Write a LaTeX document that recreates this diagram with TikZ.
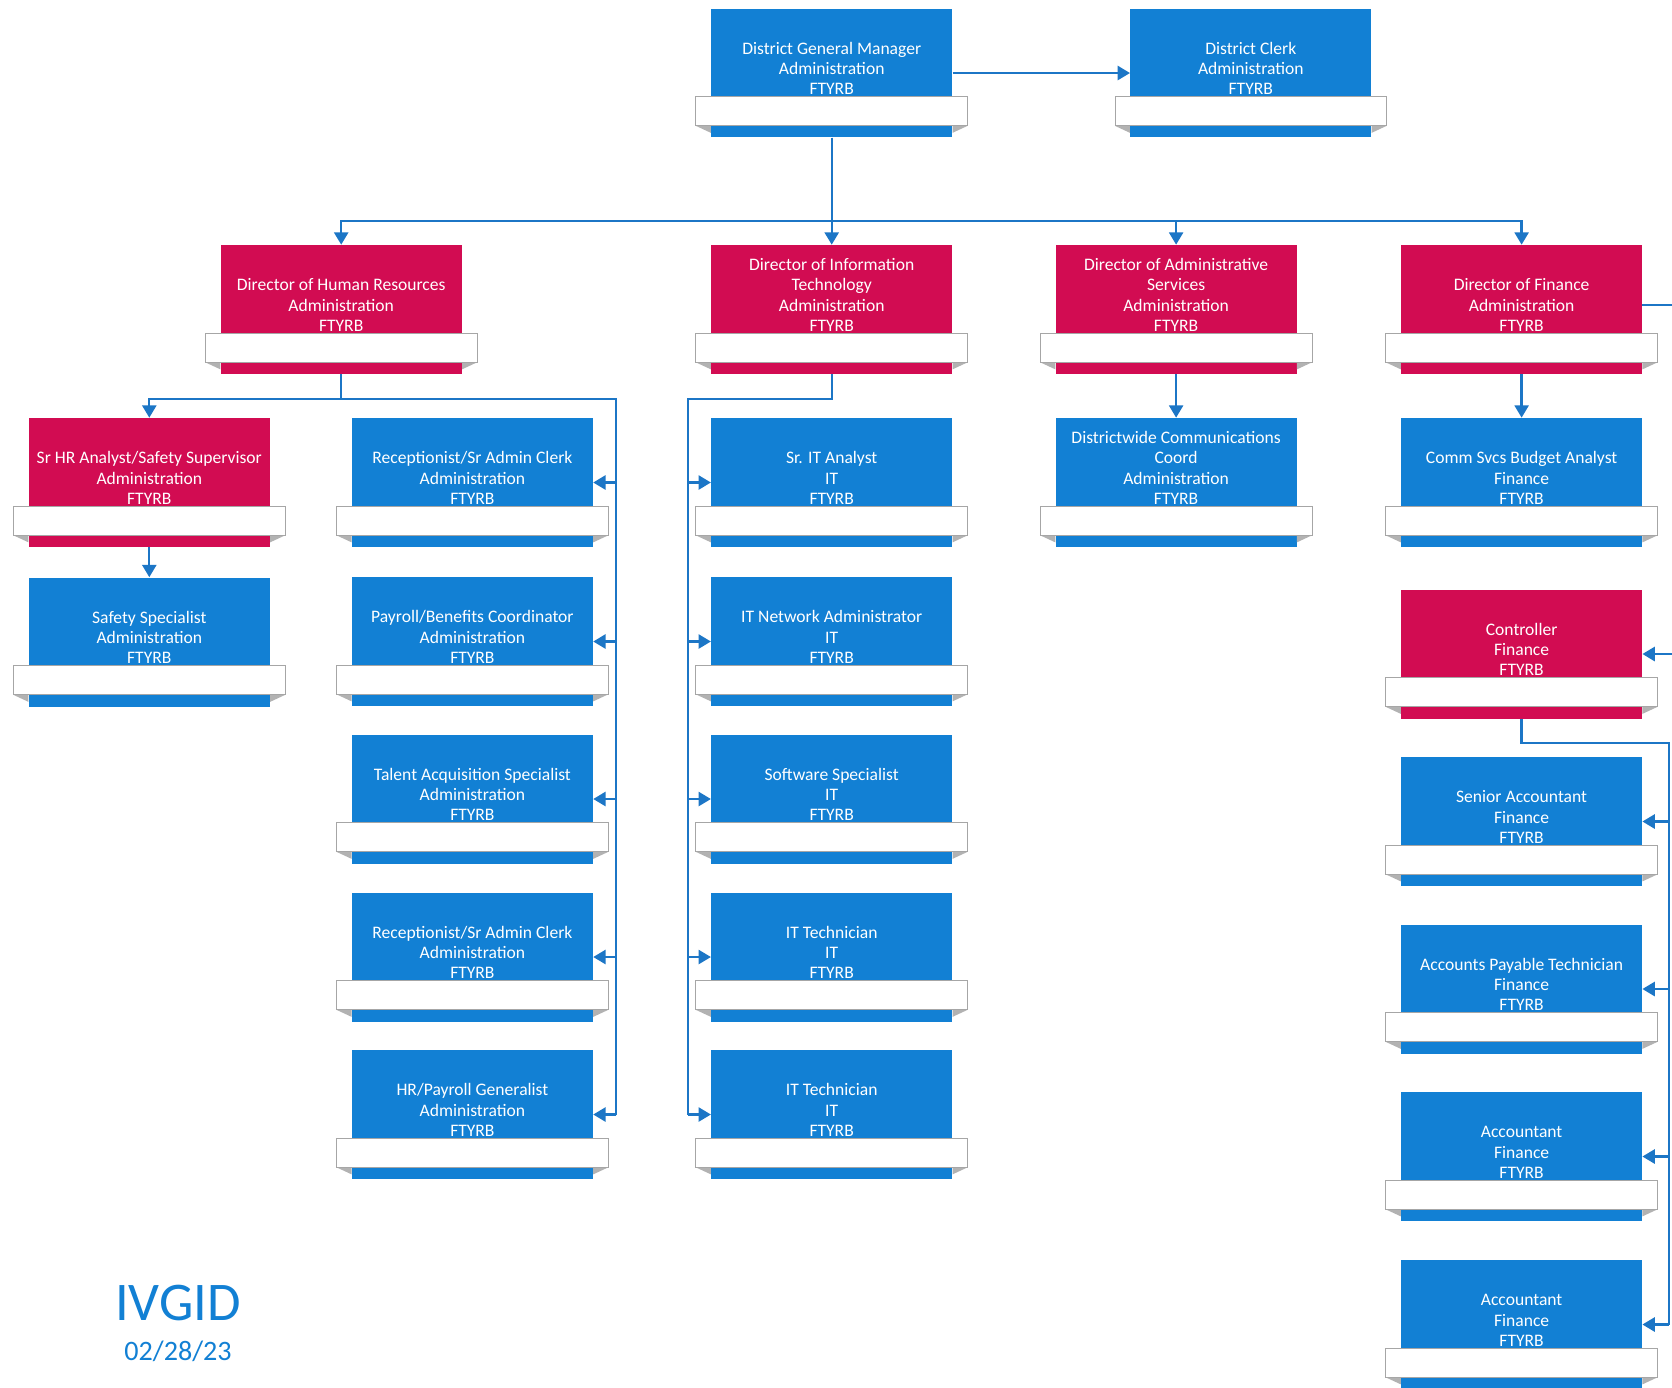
\documentclass[tikz,border=0pt]{standalone}
\usepackage{fontspec}
\setmainfont{Carlito}
\usetikzlibrary{arrows.meta,calc,positioning}
\definecolor{boxblue}{RGB}{18,128,212}
\definecolor{boxred}{RGB}{210,12,82}
\definecolor{linkblue}{RGB}{28,118,198}
\tikzset{
  orgnode/.style={minimum width=4.82cm,minimum height=2.58cm,inner sep=0pt,draw=none},
  boxtext/.style={text=white,align=center,inner sep=0pt,font=\fontsize{10}{11.5}\selectfont},
  stripbox/.style={draw=black!35,fill=white,line width=0.5pt},
  conn/.style={draw=linkblue,line width=1.3pt},
  connarrow/.style={conn,-{Triangle[width=8pt,length=7pt]}}
}
\newcommand{\orgbox}[5]{% name, x, y, colour, text
  \node[orgnode,fill=#4] (#1) at (#2,#3) {};
  \fill[black!30] ($(#1.south west)+(-15,-12)$) -- ($(#1.south west)+(0,-12)$) -- ($(#1.south west)+(0,-5)$) -- cycle;
  \fill[black!30] ($(#1.south east)+(15,-12)$) -- ($(#1.south east)+(0,-12)$) -- ($(#1.south east)+(0,-5)$) -- cycle;
  \draw[stripbox] ($(#1.south west)+(-15,-12)$) rectangle ($(#1.south east)+(15,-41)$);
  \node[boxtext,anchor=south] (#1-t) at ($(#1.north)+(0,87)$) {#5};
}

\begin{document}
\begin{tikzpicture}[x=0.02cm,y=-0.02cm]
\clip (0,0) rectangle (1672,1387);
\fill[white] (0,0) rectangle (1672,1387);
% Top
\orgbox{dgm}{831.7}{73}{boxblue}{District General Manager\\Administration\\FTYRB}
\orgbox{clerk}{1250.8}{73}{boxblue}{District Clerk\\Administration\\FTYRB}
% Directors
\orgbox{hr}{341.2}{309.5}{boxred}{Director of Human Resources\\Administration\\FTYRB}
\orgbox{it}{831.7}{309.5}{boxred}{Director of Information\\Technology\\Administration\\FTYRB}
\orgbox{adm}{1176.1}{309.5}{boxred}{Director of Administrative\\Services\\Administration\\FTYRB}
\orgbox{fin}{1521.6}{309.5}{boxred}{Director of Finance\\Administration\\FTYRB}
% Human resources
\orgbox{srhr}{149.3}{482.5}{boxred}{Sr HR Analyst/Safety Supervisor\\Administration\\FTYRB}
\orgbox{safety}{149.3}{642}{boxblue}{Safety Specialist\\Administration\\FTYRB}
\orgbox{recepA}{472.4}{482.5}{boxblue}{Receptionist/Sr Admin Clerk\\Administration\\FTYRB}
\orgbox{payroll}{472.4}{641.5}{boxblue}{Payroll/Benefits Coordinator\\Administration\\FTYRB}
\orgbox{talent}{472.4}{799}{boxblue}{Talent Acquisition Specialist\\Administration\\FTYRB}
\orgbox{recepB}{472.4}{957}{boxblue}{Receptionist/Sr Admin Clerk\\Administration\\FTYRB}
\orgbox{hrgen}{472.4}{1114.5}{boxblue}{HR/Payroll Generalist\\Administration\\FTYRB}
% Information technology
\orgbox{srit}{831.7}{482.5}{boxblue}{Sr. IT Analyst\\IT\\FTYRB}
\orgbox{netadm}{831.7}{641.5}{boxblue}{IT Network Administrator\\IT\\FTYRB}
\orgbox{softspec}{831.7}{799}{boxblue}{Software Specialist\\IT\\FTYRB}
\orgbox{ittechA}{831.7}{957}{boxblue}{IT Technician\\IT\\FTYRB}
\orgbox{ittechB}{831.7}{1114.5}{boxblue}{IT Technician\\IT\\FTYRB}
% Administrative services
\orgbox{comms}{1176.1}{482.5}{boxblue}{Districtwide Communications\\Coord\\Administration\\FTYRB}
% Finance
\orgbox{budget}{1521.6}{482.5}{boxblue}{Comm Svcs Budget Analyst\\Finance\\FTYRB}
\orgbox{ctrl}{1521.6}{654}{boxred}{Controller\\Finance\\FTYRB}
\orgbox{sracct}{1521.6}{821.5}{boxblue}{Senior Accountant\\Finance\\FTYRB}
\orgbox{aptech}{1521.6}{989}{boxblue}{Accounts Payable Technician\\Finance\\FTYRB}
\orgbox{acctA}{1521.6}{1156.5}{boxblue}{Accountant\\Finance\\FTYRB}
\orgbox{acctB}{1521.6}{1324.5}{boxblue}{Accountant\\Finance\\FTYRB}
% Links
\draw[connarrow] (dgm.east) -- (clerk.west);
\draw[connarrow] (dgm.south) -- (it.north);
\draw[connarrow] (dgm.south) -- ++(0,83.5) -| (hr.north);
\draw[connarrow] (dgm.south) -- ++(0,83.5) -| (adm.north);
\draw[connarrow] (dgm.south) -- ++(0,83.5) -| (fin.north);
% HR links
\coordinate (hrbus) at (616.3,1114.5);
\draw[conn] (hr.south) -- ++(0,24.8) -| (hrbus);
\draw[connarrow] (hr.south) -- ++(0,24.8) -| (srhr.north);
\draw[connarrow] (srhr.south) -- (safety.north);
\foreach \who in {recepA,payroll,talent,recepB,hrgen}
  \draw[connarrow] (hrbus |- \who.east) -- (\who.east);
% IT links
\coordinate (itbus) at (687.8,1114.5);
\draw[conn] (it.south) -- ++(0,24.8) -| (itbus);
\foreach \who in {srit,netadm,softspec,ittechA,ittechB}
  \draw[connarrow] (itbus |- \who.west) -- (\who.west);
% Admin and finance links
\draw[connarrow] (adm.south) -- (comms.north);
\draw[connarrow] (fin.south) -- (budget.north);
\draw[connarrow] ($(fin.east)+(0,-4.5)$) -- ++(45,0) |- (ctrl.east);
\coordinate (ctrlbus) at (1668.8,1324.5);
\draw[conn] (ctrl.south) -- ++(0,24.3) -| (ctrlbus);
\foreach \who in {sracct,aptech,acctA,acctB}
  \draw[connarrow] (ctrlbus |- \who.east) -- (\who.east);
% Stamp
\node[text=boxblue,font=\fontsize{31}{31}\selectfont] (logo) at (178,1303) {IVGID};
\node[text=boxblue,font=\fontsize{16}{16}\selectfont] (date) at (178,1351) {02/28/23};
\end{tikzpicture}
\end{document}
